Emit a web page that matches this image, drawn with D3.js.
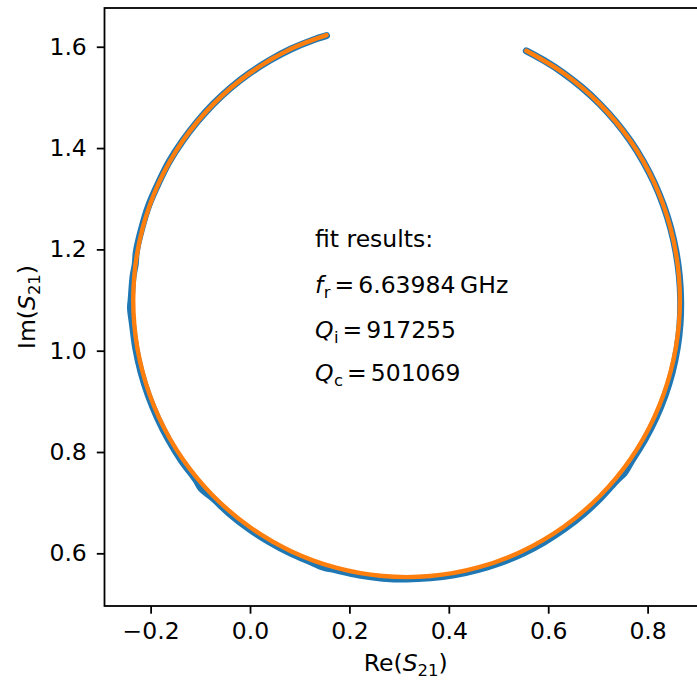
<!DOCTYPE html>
<html><head><meta charset="utf-8">
<script src="https://cdn.jsdelivr.net/npm/d3@7"></script>
<style>body{margin:0;background:#fff}svg{display:block}text{font-family:"DejaVu Sans",sans-serif;fill:#000}</style>
</head><body><svg id="c" width="697" height="681"></svg>
<script>
const dataRe = [0.154,0.1268,0.0825,0.0398,-0.0008,-0.0390,-0.0745,-0.1068,-0.1362,-0.1622,-0.1842,-0.2035,-0.2178,-0.2288,-0.2310,-0.2352,-0.2392,-0.2405,-0.2365,-0.2300,-0.2192,-0.2045,-0.1860,-0.1640,-0.1385,-0.1092,-0.0985,-0.0765,-0.0410,-0.0025,0.0385,0.0815,0.1262,0.1440,0.1722,0.2195,0.2670,0.3150,0.3630,0.4110,0.4582,0.5045,0.5492,0.5922,0.6330,0.6715,0.7068,0.7395,0.7535,0.7688,0.7945,0.8168,0.8352,0.8495,0.8595,0.8652,0.8665,0.8638,0.8571,0.8465,0.8319,0.8135,0.7913,0.7656,0.7363,0.7039,0.6685,0.6305,0.5900,0.5560];
const dataIm = [1.622,1.6135,1.5955,1.5733,1.5478,1.5188,1.4865,1.4512,1.4135,1.3738,1.3310,1.2875,1.2418,1.1950,1.1700,1.1477,1.1000,1.0850,1.0523,1.0050,0.9575,0.9115,0.8672,0.8245,0.7838,0.7455,0.7280,0.7105,0.6780,0.6485,0.6228,0.6002,0.5815,0.5738,0.5672,0.5570,0.5510,0.5492,0.5515,0.5575,0.5678,0.5820,0.6000,0.6225,0.6485,0.6780,0.7105,0.7458,0.7590,0.7840,0.8248,0.8675,0.9120,0.9577,1.0047,1.0522,1.1000,1.1478,1.1951,1.2417,1.2872,1.3313,1.3736,1.4139,1.4517,1.4868,1.5190,1.5481,1.5737,1.5920];
// fitted curve (orange)
const fitRe = [0.154,0.0826,-0.0005,-0.0739,-0.1356,-0.1835,-0.2162,-0.2329,-0.2329,-0.2162,-0.1835,-0.1356,-0.0739,-0.0005,0.0826,0.1727,0.2670,0.3630,0.4573,0.5474,0.6305,0.7039,0.7656,0.8135,0.8462,0.8629,0.8629,0.8462,0.8135,0.7656,0.7039,0.6305,0.5560];
const fitIm = [1.623,1.596,1.548,1.4868,1.4138,1.3312,1.2416,1.1477,1.0523,0.9584,0.8688,0.7862,0.7132,0.6519,0.6042,0.5716,0.5551,0.5551,0.5716,0.6042,0.6519,0.7132,0.7862,0.8688,0.9584,1.0523,1.1477,1.2416,1.3312,1.4138,1.4868,1.5481,1.5920];
const xTicks = [-0.2,0.0,0.2,0.4,0.6,0.8];
const yTicks = [0.6,0.8,1.0,1.2,1.4,1.6];
const fitTitle = "fit results:";
const fitLines = [["f","r","6.63984\u2009GHz"], ["Q","i","917255"], ["Q","c","501069"]];

const svg = d3.select("#c");
const L=104.5, R=707, T=8, B=606;
const x = d3.scaleLinear().domain([-0.2928,0.9195]).range([L,R]);
const y = d3.scaleLinear().domain([0.496,1.6765]).range([B,T]);
const fmt = v => (v<0?"\u2212":"")+Math.abs(v).toFixed(1);
const FS = 23.5, AFS = 23.5;

const plot = svg.append("g");
const dPts = dataRe.map((v,i)=>[v,dataIm[i]]);
const fPts = fitRe.map((v,i)=>[v,fitIm[i]]);
plot.append("path").attr("d", d3.line().x(d=>x(d[0])).y(d=>y(d[1])).curve(d3.curveCatmullRom)(dPts))
  .attr("fill","none").attr("stroke","#1f77b4").attr("stroke-width",7).attr("stroke-linecap","round").attr("stroke-linejoin","round");
plot.append("path").attr("d", d3.line().x(d=>x(d[0])).y(d=>y(d[1])).curve(d3.curveCatmullRom)(fPts))
  .attr("fill","none").attr("stroke","#ff7f0e").attr("stroke-width",4.4).attr("stroke-linecap","round").attr("stroke-linejoin","round");

// frame
svg.append("rect").attr("x",L).attr("y",T).attr("width",R-L).attr("height",B-T)
  .attr("fill","none").attr("stroke","#000").attr("stroke-width",1.8);

const xa = svg.append("g").attr("transform",`translate(0,${B})`)
  .call(d3.axisBottom(x).tickValues(xTicks).tickFormat(fmt).tickSize(7.7).tickPadding(8.5));
const ya = svg.append("g").attr("transform",`translate(${L},0)`)
  .call(d3.axisLeft(y).tickValues(yTicks).tickFormat(fmt).tickSize(7.7).tickPadding(10));
[xa,ya].forEach(a=>{
  a.select(".domain").remove();
  a.selectAll(".tick line").attr("stroke","#000").attr("stroke-width",1.8);
  a.selectAll(".tick text").attr("font-size",FS).attr("font-family","DejaVu Sans").attr("fill","#000");
});

// axis labels
const xl = svg.append("text").attr("x",(L+R)/2).attr("y",671).attr("text-anchor","middle").attr("font-size",FS);
xl.append("tspan").text("Re(");
xl.append("tspan").attr("font-style","italic").text("S");
xl.append("tspan").attr("font-size",FS*0.7).attr("dy",4.5).text("21");
xl.append("tspan").attr("dy",-4.5).text(")");
const yl = svg.append("text").attr("transform",`translate(35,${(T+B)/2}) rotate(-90)`).attr("text-anchor","middle").attr("font-size",FS);
yl.append("tspan").text("Im(");
yl.append("tspan").attr("font-style","italic").text("S");
yl.append("tspan").attr("font-size",FS*0.7).attr("dy",4.5).text("21");
yl.append("tspan").attr("dy",-4.5).text(")");

// annotation
svg.append("text").attr("x",315).attr("y",247).attr("font-size",AFS).text(fitTitle);
const base=[293,338,381];
fitLines.forEach((ln,i)=>{
  const t = svg.append("text").attr("x",315).attr("y",base[i]).attr("font-size",AFS);
  t.append("tspan").attr("font-style","italic").text(ln[0]);
  t.append("tspan").attr("font-size",AFS*0.7).attr("dy",4.5).attr("dx",0.5).text(ln[1]);
  t.append("tspan").attr("dy",-4.5).attr("dx",4).text("=");
  t.append("tspan").attr("dx",4).text(ln[2]);
});
</script></body></html>
